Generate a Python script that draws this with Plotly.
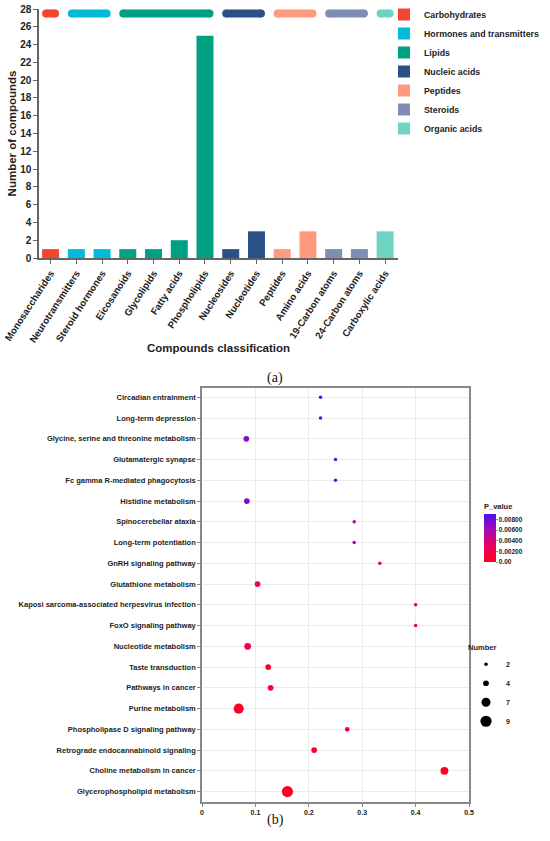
import plotly.graph_objects as go

W, H = 550, 841
FONT = "Liberation Sans, Arial, sans-serif"

# ---- (a) compound classification ----
categories = ["Monosaccharides", "Neurotransmitters", "Steroid hormones", "Eicosanoids",
              "Glycolipids", "Fatty acids", "Phospholipids", "Nucleosides", "Nucleotides",
              "Peptides", "Amino acids", "19-Carbon atoms", "24-Carbon atoms",
              "Carboxylic acids"]
counts = [1, 1, 1, 1, 1, 2, 25, 1, 3, 1, 3, 1, 1, 3]
groups = ["Carbohydrates", "Hormones and transmitters", "Hormones and transmitters",
          "Lipids", "Lipids", "Lipids", "Lipids", "Nucleic acids", "Nucleic acids",
          "Peptides", "Peptides", "Steroids", "Steroids", "Organic acids"]
group_names = ["Carbohydrates", "Hormones and transmitters", "Lipids", "Nucleic acids",
               "Peptides", "Steroids", "Organic acids"]
group_colors = ["#F4452F", "#00BCDA", "#00A083", "#2B5088", "#FF9A7F", "#7E8CB6", "#6CD4C0"]
count_ticks = list(range(0, 29, 2))

# ---- (b) KEGG enrichment, listed top to bottom ----
pathways = ["Circadian entrainment", "Long-term depression",
            "Glycine, serine and threonine metabolism", "Glutamatergic synapse",
            "Fc gamma R-mediated phagocytosis", "Histidine metabolism",
            "Spinocerebellar ataxia", "Long-term potentiation", "GnRH signaling pathway",
            "Glutathione metabolism", "Kaposi sarcoma-associated herpesvirus infection",
            "FoxO signaling pathway", "Nucleotide metabolism", "Taste transduction",
            "Pathways in cancer", "Purine metabolism", "Phospholipase D signaling pathway",
            "Retrograde endocannabinoid signaling", "Choline metabolism in cancer",
            "Glycerophospholipid metabolism"]
rich_factor = [0.222, 0.222, 0.083, 0.25, 0.25, 0.084, 0.285, 0.285, 0.333, 0.104,
               0.4, 0.4, 0.0855, 0.124, 0.1285, 0.0687, 0.272, 0.21, 0.454, 0.16]
p_value = [0.0088, 0.0088, 0.0072, 0.0076, 0.0076, 0.0072, 0.0058, 0.0058, 0.0035, 0.0030,
           0.0025, 0.0025, 0.0017, 0.0010, 0.0010, 0.0004, 0.0008, 0.0006, 0.0003, 0.00002]
number = [2, 2, 4, 2, 2, 4, 2, 2, 2, 4, 2, 2, 5, 4, 4, 8, 3, 4, 6, 9]
size_breaks = [2, 4, 7, 9]
p_ticks = [0, 0.002, 0.004, 0.006, 0.008]
p_tick_labels = ["0.00", "0.00200", "0.00400", "0.00600", "0.00800"]
p_max = 0.009


def dot_size(n):
    return 1.1 * n + 1.3


fig = go.Figure()

# bars, one trace per class so the legend shows the groups
for name, color in zip(group_names, group_colors):
    idx = [i for i, g in enumerate(groups) if g == name]
    fig.add_trace(go.Bar(
        x=idx, y=[counts[i] for i in idx], width=0.66, name=name,
        marker=dict(color=color, line=dict(width=0)),
        xaxis="x", yaxis="y", legend="legend"))

# rounded group bands along the top
BAND_Y = 27.5
for name, color in zip(group_names, group_colors):
    idx = [i for i, g in enumerate(groups) if g == name]
    fig.add_trace(go.Scatter(
        x=[min(idx) - 0.175, max(idx) + 0.175], y=[BAND_Y, BAND_Y],
        mode="lines+markers", line=dict(color=color, width=8),
        marker=dict(color=color, size=8, line=dict(width=0)),
        showlegend=False, hoverinfo="skip", xaxis="x", yaxis="y"))

# bubble plot
fig.add_trace(go.Scatter(
    x=rich_factor, y=pathways, mode="markers", showlegend=False,
    marker=dict(
        size=[dot_size(n) for n in number], color=p_value, cmin=0, cmax=p_max,
        colorscale=[[0, "#FF0020"], [0.33, "#E8005C"], [0.66, "#A808B0"], [1, "#4C12F2"]],
        line=dict(width=0), opacity=1,
        colorbar=dict(
            thickness=12, len=62, lenmode="pixels", x=484 / W, xanchor="left",
            y=1 - 531 / H, yanchor="middle", xpad=0, ypad=0, outlinewidth=0,
            tickvals=p_ticks, ticktext=p_tick_labels, ticks="outside", ticklen=2,
            tickcolor="#999999", tickfont=dict(family=FONT, size=6.5, color="#222", weight="bold"),
            title=dict(text="P_value", side="top",
                       font=dict(family=FONT, size=7.5, color="#222", weight="bold")))),
    xaxis="x2", yaxis="y2"))

# size legend
for n in size_breaks:
    fig.add_trace(go.Scatter(
        x=[None], y=[None], mode="markers", name=str(n),
        marker=dict(size=dot_size(n), color="black"),
        xaxis="x2", yaxis="y2", legend="legend2"))

tick_font = dict(family=FONT, color="#222", weight="bold")

fig.update_layout(
    width=W, height=H, margin=dict(l=0, r=0, t=0, b=0, autoexpand=False),
    paper_bgcolor="white", plot_bgcolor="white", barmode="overlay",
    font=dict(family=FONT, color="#222"),
    xaxis=dict(
        domain=[39 / W, 398 / W], anchor="y", range=[-0.45, 13.5], automargin=False,
        tickmode="array", tickvals=list(range(len(categories))), ticktext=categories,
        tickangle=-57, tickfont=dict(size=9.7, **tick_font),
        ticks="outside", ticklen=4, tickcolor="#666",
        showline=True, linecolor="#666", linewidth=1.5, showgrid=False, zeroline=False,
        title=dict(text="Compounds classification", standoff=0,
                   font=dict(size=11.5, **tick_font))),
    yaxis=dict(
        domain=[1 - 258 / H, 1 - 9 / H], anchor="x", range=[0, 28], automargin=False,
        tickmode="array", tickvals=count_ticks, tickfont=dict(size=10, **tick_font),
        ticks="outside", ticklen=4, tickcolor="#666",
        showline=True, linecolor="#666", linewidth=1.5, showgrid=False, zeroline=False,
        title=dict(text="Number of compounds", standoff=1,
                   font=dict(size=11.5, **tick_font))),
    xaxis2=dict(
        domain=[202 / W, 469 / W], anchor="y2", range=[0, 0.5], dtick=0.1, automargin=False,
        tickfont=dict(size=7, **tick_font), ticks="outside", ticklen=3, tickcolor="#888",
        showline=True, mirror=True, linecolor="#888", linewidth=1.5,
        showgrid=True, gridcolor="#EBEBEB", gridwidth=1, zeroline=False),
    yaxis2=dict(
        domain=[1 - 802 / H, 1 - 388 / H], anchor="x2", type="category", automargin=False,
        categoryorder="array", categoryarray=pathways[::-1], range=[-0.5, 19.45],
        tickfont=dict(size=7.5, **tick_font), ticks="outside", ticklen=3, tickcolor="#888",
        showline=True, mirror=True, linecolor="#888", linewidth=1.5,
        showgrid=True, gridcolor="#EBEBEB", gridwidth=1, zeroline=False),
    legend=dict(
        x=384 / W, y=1, xanchor="left", yanchor="top", tracegroupgap=0,
        font=dict(size=8.8, **tick_font), bgcolor="rgba(0,0,0,0)"),
    legend2=dict(
        x=466 / W, y=1 - 640 / H, xanchor="left", yanchor="top", itemsizing="trace",
        font=dict(size=7, **tick_font), bgcolor="rgba(0,0,0,0)",
        title=dict(text="Number", font=dict(size=7.5, **tick_font))),
    annotations=[
        dict(text="(a)", x=0.5, y=1 - 378 / H, xref="paper", yref="paper",
             showarrow=False, font=dict(family="Liberation Serif, Times New Roman, serif",
                                        size=14, color="#111")),
        dict(text="(b)", x=0.5, y=1 - 830 / H, xref="paper", yref="paper",
             showarrow=False, font=dict(family="Liberation Serif, Times New Roman, serif",
                                        size=14, color="#111")),
    ],
)

fig.write_html("out.html", config={"displayModeBar": False},
               post_script="document.body.style.margin='0';document.body.style.overflow='hidden';")
